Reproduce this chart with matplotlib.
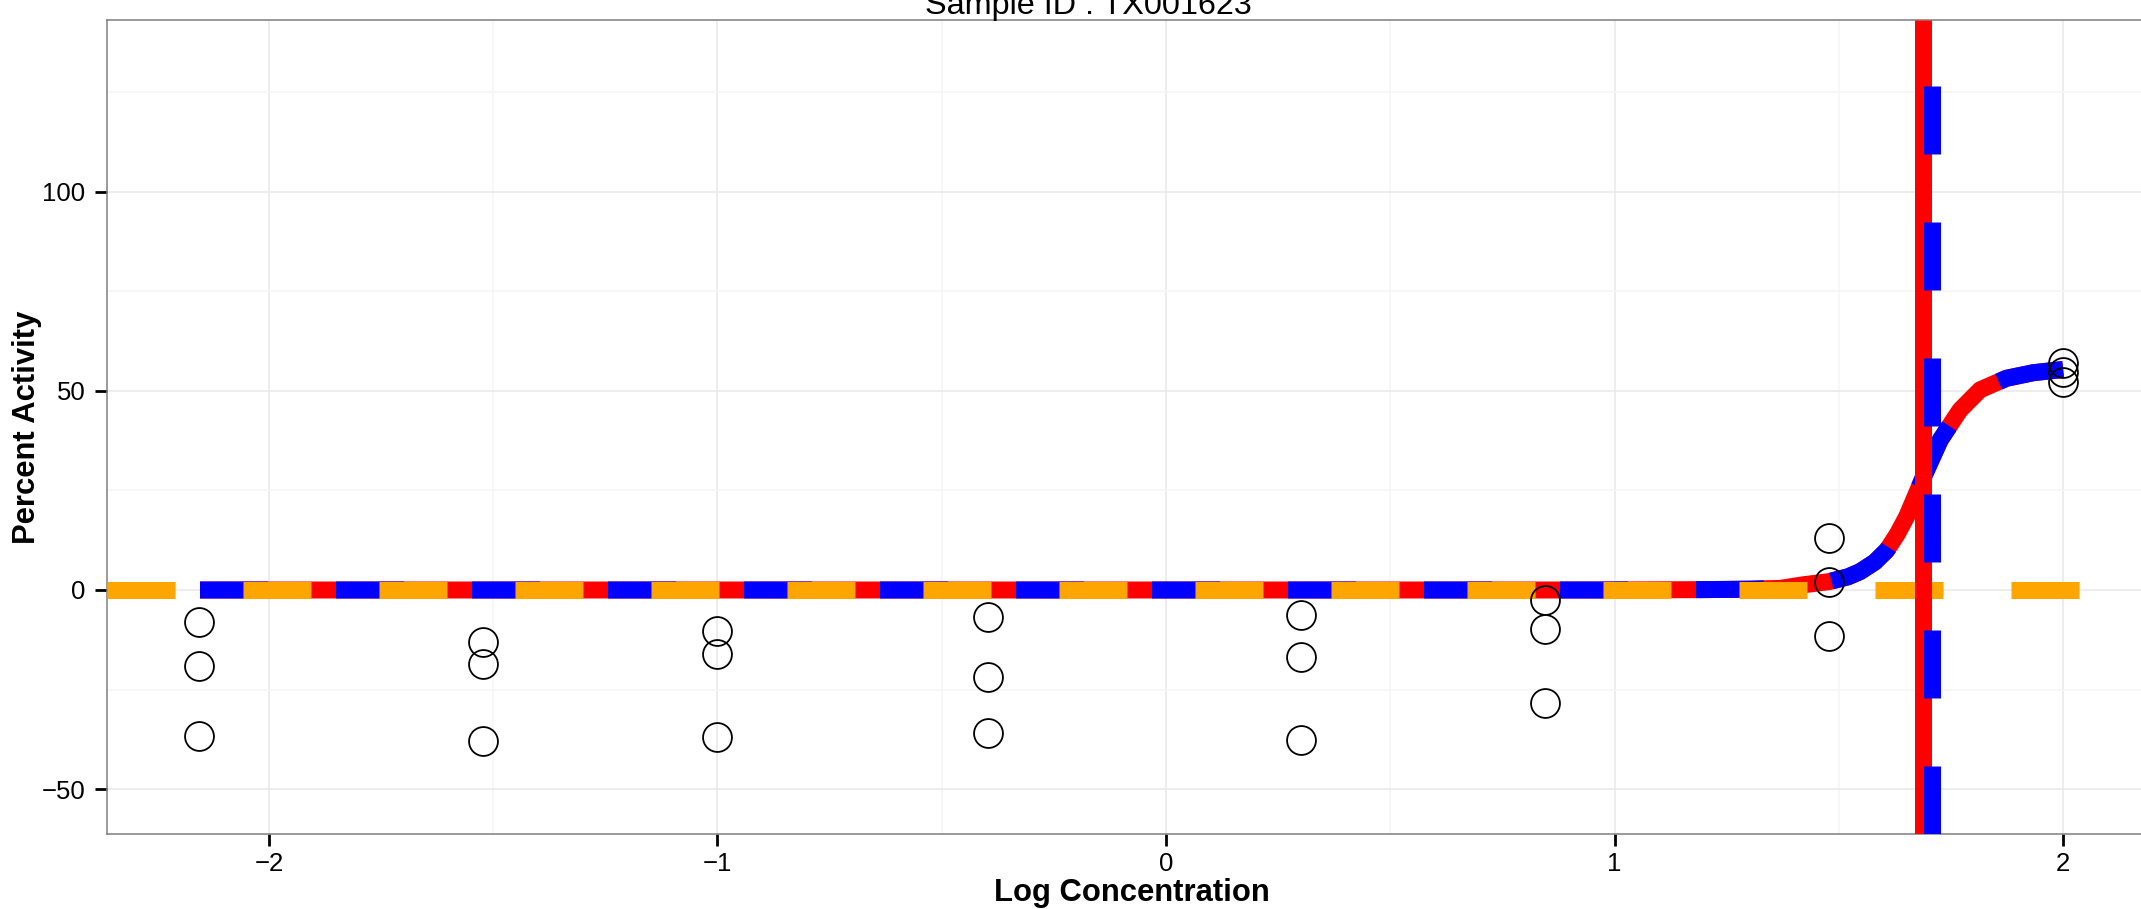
import matplotlib.pyplot as plt
import numpy as np

plt.rcParams['font.family'] = ['Liberation Sans', 'DejaVu Sans']

# log10 concentration and the three replicate readings at each
log_conc = [-2.155, -1.523, -1.0, -0.398, 0.301, 0.845, 1.477, 2.0]
rep1 = [-8.1, -13.0, -10.3, -6.7, -6.2, -2.5, 13.0, 57.1]
rep2 = [-19.1, -18.5, -16.1, -21.9, -16.8, -9.9, 2.1, 54.7]
rep3 = [-36.7, -37.9, -37.0, -35.9, -37.8, -28.5, -11.6, 52.3]

# fitted curve
fit_x = [-2.1536, 1.0, 1.2, 1.3, 1.369, 1.42, 1.478, 1.52, 1.547, 1.58, 1.607,
         1.63, 1.651, 1.689, 1.726, 1.77, 1.815, 1.874, 1.934, 2.0]
fit_y = [0.0, 0.0, 0.1, 0.2, 0.4, 1.3, 2.1, 3.3, 4.6, 7.0, 10.0,
         14.0, 18.4, 28.5, 37.7, 45.2, 50.3, 53.2, 54.6, 55.4]

ac50_red = 1.687
ac50_blue = 1.707
baseline = 0

xticks = [-2, -1, 0, 1, 2]
yticks = [-50, 0, 50, 100]

xlim = (-2.361, 2.207)
ylim = (-61.3, 143.2)

W, H = 2141, 909
fig = plt.figure(figsize=(W / 100, H / 100), dpi=100)
ax = fig.add_axes([107 / W, 1 - 834 / H, (2156 - 107) / W, (834 - 20) / H])

lw = 12.24
# fit curve: solid red under a dashed blue copy
ax.plot(fit_x, fit_y, color='red', lw=lw, solid_capstyle='butt', zorder=2)
ax.plot(fit_x, fit_y, color='blue', lw=lw, dashes=(4, 4), dash_capstyle='butt', zorder=3)
# baseline
ax.plot(xlim, [baseline, baseline], color='orange', lw=lw, dashes=(4, 4),
        dash_capstyle='butt', zorder=4)
# ac50 lines
ax.plot([ac50_red, ac50_red], ylim, color='red', lw=lw, solid_capstyle='butt', zorder=5)
ax.plot([ac50_blue, ac50_blue], ylim, color='blue', lw=lw, dashes=(4, 4),
        dash_capstyle='butt', zorder=6)

for rep in [rep1, rep2, rep3]:
    ax.plot(log_conc, rep, 'o', mfc='none', mec='black', ms=20.8, mew=1.3, zorder=7)

ax.set_xlim(xlim)
ax.set_ylim(ylim)
ax.set_xticks(xticks)
ax.set_yticks(yticks)
ax.set_xticks([-1.5, -0.5, 0.5, 1.5], minor=True)
ax.set_yticks([-25, 25, 75, 125], minor=True)
ax.grid(which='major', color='#e8e8e8', lw=1.1)
ax.grid(which='minor', color='#f5f5f5', lw=1.1)
ax.set_axisbelow(True)

ax.tick_params(which='minor', length=0)
ax.tick_params(which='major', length=8.4, width=2.0, color='black', labelsize=18.5)
ax.tick_params(axis='x', pad=4.6)
ax.tick_params(axis='y', pad=7.0)
for s in ax.spines.values():
    s.set_color('#7f7f7f')
    s.set_linewidth(1.1)

ax.set_xlabel('Log Concentration', fontsize=22.3, fontweight='bold')
ax.xaxis.label.set_va('baseline')
ax.xaxis.set_label_coords(0.5, (834 - 901) / 814)
ax.set_ylabel('Percent Activity', fontsize=22.3, fontweight='bold')
ax.yaxis.label.set_va('center')
ax.yaxis.set_label_coords((27 - 107) / 2049, 0.5)

fig.text(1088 / W, 1 - 14 / H, 'Sample ID : TX001623', fontsize=23.3,
         ha='center', va='baseline')

fig.savefig('out.png', dpi=100)
